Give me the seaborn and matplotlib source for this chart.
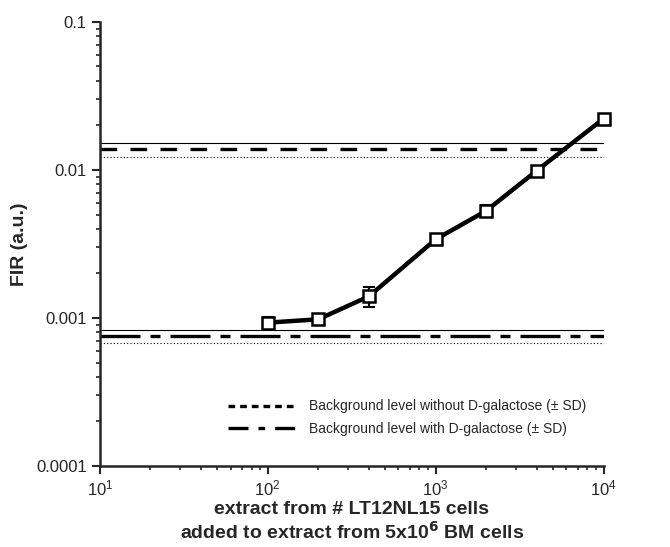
import numpy as np
import pandas as pd
import matplotlib
matplotlib.use("Agg")
import matplotlib.pyplot as plt
import seaborn as sns
from matplotlib.ticker import LogLocator, LogFormatterSciNotation, NullFormatter
from matplotlib.lines import Line2D

cells = [100, 200, 400, 1000, 2000, 4000, 10000]
fir = [0.00093, 0.00098, 0.00140, 0.0034, 0.0053, 0.0099, 0.0222]
fir_sd = [0.00008, 0.00005, 0.00022, 0.00015, 0.0005, 0.0004, 0.0006]

bg_without = 0.0138
bg_without_sd_hi = 0.0151
bg_without_sd_lo = 0.0123
bg_with = 0.00076
bg_with_sd_hi = 0.00083
bg_with_sd_lo = 0.00068

sns.set_style("ticks")
plt.rcParams['font.family'] = ['Liberation Sans', 'DejaVu Sans']

fig = plt.figure(figsize=(6.7, 5.47), dpi=100)
ax = fig.add_axes([0.149, 0.148, 0.752, 0.812])

df = pd.DataFrame({"cells": cells, "fir": fir})
ax.set_xscale("log")
ax.set_yscale("log")

# background lines
ax.axhline(bg_without, color="black", lw=2.4, ls=(0, (5, 4)))
ax.axhline(bg_without_sd_hi, color="black", lw=0.8, ls="-")
ax.axhline(bg_without_sd_lo, color="black", lw=0.8, ls=(0, (1, 2)))
ax.axhline(bg_with, color="black", lw=2.4, ls=(0, (12, 3, 3, 3)))
ax.axhline(bg_with_sd_hi, color="black", lw=0.8, ls="-")
ax.axhline(bg_with_sd_lo, color="black", lw=0.8, ls=(0, (1, 2)))

ax.errorbar(cells, fir, yerr=fir_sd, fmt="none", ecolor="black", elinewidth=1.5,
            capsize=4, capthick=1.5, zorder=3)
sns.lineplot(data=df, x="cells", y="fir", ax=ax, color="black", lw=3.2, marker="s",
             markersize=8, markerfacecolor="white", markeredgecolor="black",
             markeredgewidth=1.8, zorder=4, clip_on=False)

ax.set_xlim(10, 10000)
ax.set_ylim(0.0001, 0.1)
ax.xaxis.set_major_locator(LogLocator(base=10, numticks=10))
ax.xaxis.set_major_formatter(LogFormatterSciNotation())
ax.xaxis.set_minor_locator(LogLocator(base=10, subs=np.arange(2, 10), numticks=10))
ax.xaxis.set_minor_formatter(NullFormatter())
ax.set_yticks([0.0001, 0.001, 0.01, 0.1])
ax.set_yticklabels(["0.0001", "0.001", "0.01", "0.1"])
ax.yaxis.set_minor_locator(LogLocator(base=10, subs=np.arange(2, 10), numticks=10))
ax.yaxis.set_minor_formatter(NullFormatter())
ax.tick_params(which="major", direction="out", length=6, width=1.5, labelsize=12)
ax.tick_params(axis="x", which="major", pad=3)
ax.tick_params(which="minor", direction="out", length=3, width=1.2)
for s in ["top", "right"]:
    ax.spines[s].set_visible(False)
for s in ["left", "bottom"]:
    ax.spines[s].set_linewidth(1.8)

ax.set_ylabel("FIR (a.u.)", fontsize=14, fontweight="bold", labelpad=6)
ax.set_xlabel("extract from # LT12NL15 cells\nadded to extract from 5x10$^{\\mathbf{6}}$ BM cells",
              fontsize=14, fontweight="bold", labelpad=2, linespacing=1.15)

handles = [Line2D([0], [0], color="black", lw=2.4, ls=(0, (2, 1.5))),
           Line2D([0], [0], color="black", lw=2.4, ls=(0, (6, 3, 2, 3)))]
ax.legend(handles, ["Background level without D-galactose (± SD)",
                    "Background level with D-galactose (± SD)"],
          loc="lower right", bbox_to_anchor=(0.99, 0.04), frameon=False, fontsize=10,
          handlelength=5, labelspacing=0.6)

fig.savefig("out.png", dpi=100)
